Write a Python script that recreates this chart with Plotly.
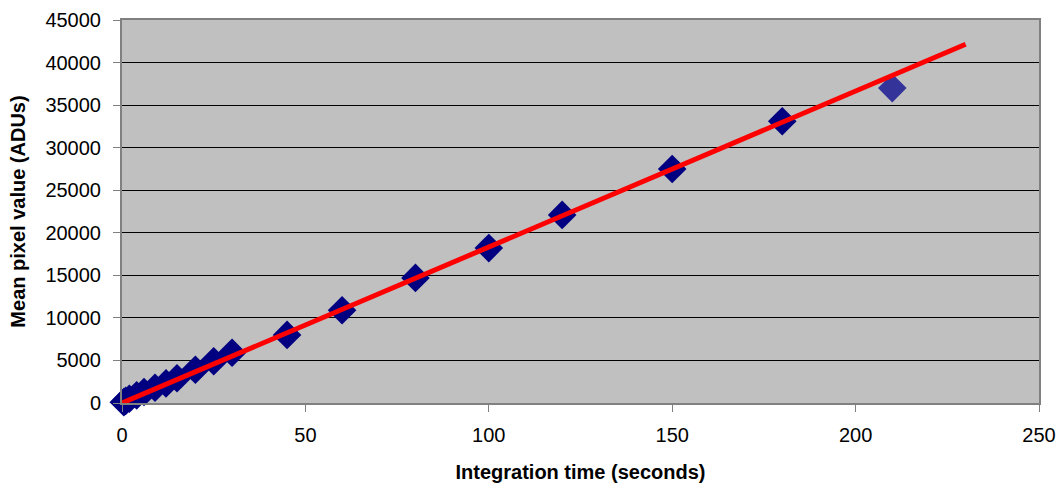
import plotly.graph_objects as go

time_s = [0.5, 1, 2, 4, 6, 9, 12, 15, 20, 25, 30, 45, 60, 80, 100, 120, 150, 180]
mean_adu = [100, 250, 500, 900, 1300, 1800, 2300, 2900, 3900, 4900, 5900, 8000, 10900, 14700, 18200, 22100, 27500, 33100]
outlier_time = [210]
outlier_adu = [37000]
fit_time = [0, 230]
fit_adu = [0, 42150]

fig = go.Figure()
fig.add_trace(go.Scatter(x=time_s, y=mean_adu, mode="markers",
                         marker=dict(symbol="diamond", size=22, color="#000080"),
                         showlegend=False, cliponaxis=False))
fig.add_trace(go.Scatter(x=outlier_time, y=outlier_adu, mode="markers",
                         marker=dict(symbol="diamond", size=22, color="#333399"),
                         showlegend=False))
fig.add_trace(go.Scatter(x=fit_time, y=fit_adu, mode="lines",
                         line=dict(color="#FF0000", width=5),
                         showlegend=False))

font = "Liberation Sans, Arial, sans-serif"
fig.update_layout(
    width=1058, height=490,
    margin=dict(l=122, r=19, t=20, b=87),
    paper_bgcolor="white", plot_bgcolor="#C0C0C0",
    font=dict(family=font, size=20, color="black"),
    xaxis=dict(range=[0, 250], tickvals=[0, 50, 100, 150, 200, 250],
               showgrid=False, zeroline=False, ticks="outside", ticklen=7,
               tickcolor="#808080", showline=True, linecolor="#808080", linewidth=2,
               mirror=True, automargin=False, tickformat="d", ticklabelstandoff=6,
               title=dict(text="<b>Integration time (seconds)</b>", font=dict(size=20), standoff=20)),
    yaxis=dict(range=[0, 45000], dtick=5000, showgrid=True, gridcolor="black", gridwidth=1,
               zeroline=False, ticks="outside", ticklen=7, tickcolor="#808080",
               showline=True, linecolor="#808080", linewidth=2, mirror=True,
               automargin=False, tickformat="d", ticklabelstandoff=8,
               title=dict(text="<b>Mean pixel value (ADUs)</b>", font=dict(size=20), standoff=14)),
)
fig.write_html("out.html", config={"displayModeBar": False},
               post_script="document.body.style.margin='0';document.body.style.overflow='hidden';")
